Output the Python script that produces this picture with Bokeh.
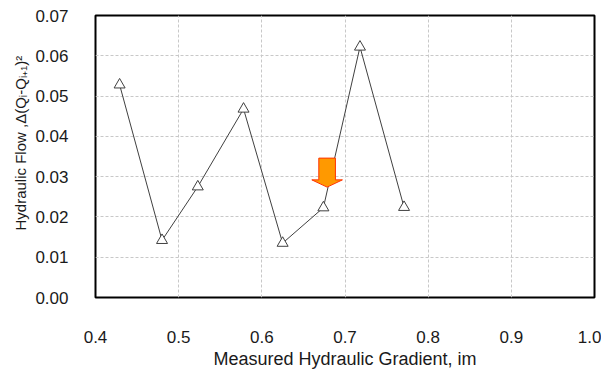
from bokeh.plotting import figure
from bokeh.models import Range1d, FixedTicker, Title, ColumnDataSource, NumeralTickFormatter
from bokeh.embed import file_html
from bokeh.resources import INLINE

# Data
gradient = [0.429, 0.480, 0.523, 0.578, 0.625, 0.674, 0.718, 0.771]
flow = [0.0528, 0.0142, 0.0275, 0.0468, 0.0135, 0.0223, 0.0622, 0.0224]
x_ticks = [0.4, 0.5, 0.6, 0.7, 0.8, 0.9, 1.0]
y_ticks = [0.00, 0.01, 0.02, 0.03, 0.04, 0.05, 0.06, 0.07]

# Arrow annotation (data units)
arrow_x = 0.6785
arrow_top = 0.0346
arrow_neck = 0.0292
arrow_tip = 0.0274
shaft_half = 0.010
head_half = 0.0184

TXT = "#1a1a1a"
FONT = "Liberation Sans"

p = figure(width=601, height=371, output_backend="svg", toolbar_location=None,
           x_range=Range1d(0.4, 1.0), y_range=Range1d(0.0, 0.07),
           min_border_left=95, min_border_right=7, min_border_top=15, min_border_bottom=74)

p.outline_line_color = "black"
p.outline_line_width = 2
p.background_fill_color = "white"
p.border_fill_color = "white"

p.xaxis.ticker = FixedTicker(ticks=x_ticks)
p.yaxis.ticker = FixedTicker(ticks=y_ticks)
p.xaxis.formatter = NumeralTickFormatter(format="0.0")
p.yaxis.formatter = NumeralTickFormatter(format="0.00")

for ax in (p.xaxis[0], p.yaxis[0]):
    ax.axis_line_color = None
    ax.major_tick_line_color = None
    ax.minor_tick_line_color = None
    ax.major_label_text_font = FONT
    ax.major_label_text_font_size = "17px"
    ax.major_label_text_color = TXT
    ax.axis_label_text_font = FONT
    ax.axis_label_text_font_style = "normal"
    ax.axis_label_text_color = TXT

p.xaxis.major_label_standoff = 27
p.yaxis.major_label_standoff = 21
p.xaxis.axis_label = "Measured Hydraulic Gradient, im"
p.xaxis.axis_label_text_font_size = "18px"
p.xaxis.axis_label_standoff = 3

p.xgrid.grid_line_color = "#c8c8c8"
p.ygrid.grid_line_color = "#c8c8c8"
p.xgrid.grid_line_dash = "3 2"
p.ygrid.grid_line_dash = "3 2"
p.xgrid.grid_line_width = 1
p.ygrid.grid_line_width = 1

src = ColumnDataSource(dict(x=gradient, y=flow))
p.line("x", "y", source=src, line_color="#404040", line_width=1)
p.scatter("x", "y", source=src, marker="triangle", size=11, fill_color="white",
          line_color="#404040", line_width=1)

ax_pts = [arrow_x - shaft_half, arrow_x + shaft_half, arrow_x + shaft_half,
          arrow_x + head_half, arrow_x, arrow_x - head_half, arrow_x - shaft_half]
ay_pts = [arrow_top, arrow_top, arrow_neck, arrow_neck, arrow_tip, arrow_neck, arrow_neck]
p.patch(ax_pts, ay_pts, fill_color="#FF9900", line_color="#FF3300", line_width=1)

ytitle = Title(text="Hydraulic Flow ,Δ(Qᵢ-Qᵢ₊₁)²", align="left", offset=67,
               text_font=FONT, text_font_size="15px", text_font_style="normal",
               text_color=TXT, standoff=7)
p.add_layout(ytitle, "left")

open("out.html", "w").write(file_html(p, INLINE))
